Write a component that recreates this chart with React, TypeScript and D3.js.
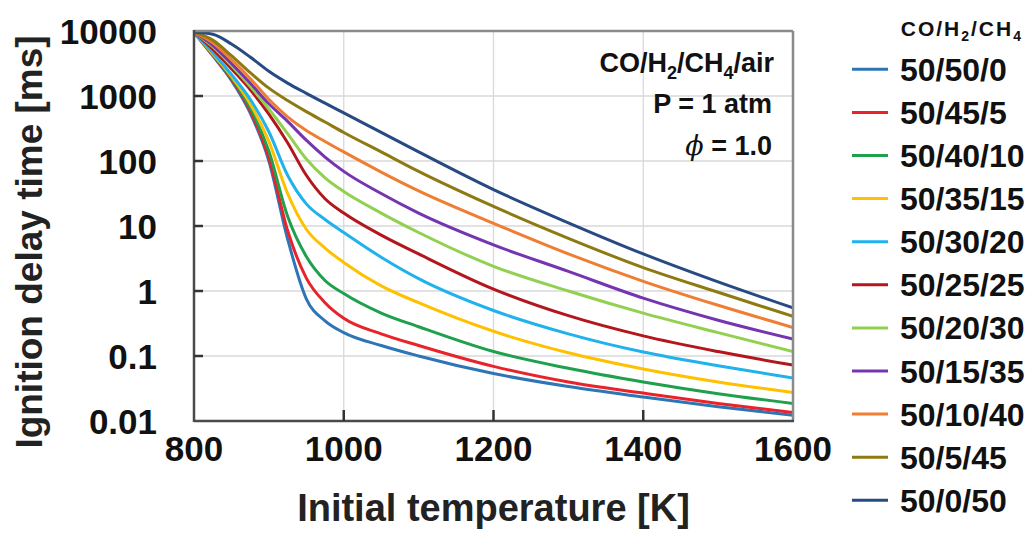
import React from "react";
import * as d3 from "d3";

// Initial temperature grid [K]
const temperatures = [800, 825, 850, 875, 900, 925, 950, 975, 1000, 1050, 1100, 1200, 1300, 1400, 1500, 1600];

// Ignition delay time [ms] for each CO/H2/CH4 blend
const mix50_50_0 = [9550, 4170, 1740, 550, 100, 6.31, 0.759, 0.347, 0.229, 0.145, 0.1, 0.0537, 0.0339, 0.0234, 0.0166, 0.0123];
const mix50_45_5 = [9550, 4270, 1820, 603, 112, 8.51, 1.58, 0.661, 0.38, 0.219, 0.145, 0.0692, 0.0398, 0.0269, 0.0186, 0.0135];
const mix50_40_10 = [9550, 4370, 1910, 661, 141, 14.1, 3.39, 1.45, 0.912, 0.457, 0.282, 0.117, 0.0646, 0.0398, 0.0263, 0.0186];
const mix50_35_15 = [9550, 4470, 2000, 759, 200, 31.6, 8.91, 4.57, 2.75, 1.2, 0.661, 0.24, 0.112, 0.0631, 0.0398, 0.0275];
const mix50_30_20 = [9550, 4680, 2140, 891, 282, 60.3, 21.9, 12.6, 7.94, 3.31, 1.55, 0.501, 0.219, 0.115, 0.0708, 0.0457];
const mix50_25_25 = [9550, 5250, 2630, 1260, 525, 191, 60.3, 26.3, 15.8, 7.24, 3.72, 1.07, 0.417, 0.204, 0.117, 0.0724];
const mix50_20_30 = [9550, 5750, 2950, 1410, 631, 263, 107, 55.0, 33.9, 15.8, 7.94, 2.4, 1.0, 0.457, 0.229, 0.117];
const mix50_15_35 = [9550, 6030, 3160, 1580, 759, 407, 209, 115, 69.2, 31.6, 15.8, 5.13, 2.0, 0.776, 0.355, 0.182];
const mix50_10_40 = [9550, 6610, 3630, 1860, 891, 479, 295, 200, 138, 67.6, 34.7, 11.0, 3.72, 1.41, 0.603, 0.275];
const mix50_5_45 = [9550, 7240, 4170, 2290, 1320, 851, 575, 398, 275, 138, 69.2, 20.0, 6.46, 2.29, 0.955, 0.407];
const mix50_0_50 = [9550, 8910, 6310, 3980, 2400, 1580, 1100, 776, 550, 275, 138, 36.3, 11.2, 3.72, 1.38, 0.55];

const seriesNames = ["50/50/0", "50/45/5", "50/40/10", "50/35/15", "50/30/20", "50/25/25", "50/20/30", "50/15/35", "50/10/40", "50/5/45", "50/0/50"];
const seriesColors = ["#2E75B6", "#E8232B", "#1FA04C", "#FFC000", "#1FB2EC", "#B4161D", "#92D050", "#7535B0", "#EF7E32", "#8E7A12", "#284A82"];
const seriesValues = [mix50_50_0, mix50_45_5, mix50_40_10, mix50_35_15, mix50_30_20, mix50_25_25, mix50_20_30, mix50_15_35, mix50_10_40, mix50_5_45, mix50_0_50];

const yTicks = [10000, 1000, 100, 10, 1, 0.1, 0.01];
const yTickLabels = ["10000", "1000", "100", "10", "1", "0.1", "0.01"];
const xTicks = [800, 1000, 1200, 1400, 1600];
const xTickLabels = ["800", "1000", "1200", "1400", "1600"];

const FONT = "'Liberation Sans', Arial, Helvetica, sans-serif";

export default function App() {
  const left = 194, right = 793, top = 31, bottom = 421;
  const x = d3.scaleLinear().domain([800, 1600]).range([left, right]);
  const y = d3.scaleLog().domain([0.01, 10000]).range([bottom, top]);

  const line = d3
    .line<[number, number]>()
    .x((d) => x(d[0]))
    .y((d) => y(d[1]))
    .curve(d3.curveMonotoneX);

  const legendX0 = 852, legendX1 = 888, legendTop = 69.3, legendStep = 43.1;

  return (
    <svg
      width={1028}
      height={535}
      style={{ position: "absolute", left: 0, top: 0, background: "#fff" }}
      fontFamily={FONT}
    >
      <defs>
        <clipPath id="plotClip">
          <rect x={left} y={top - 2} width={right - left} height={bottom - top + 2} />
        </clipPath>
      </defs>

      {/* grid */}
      {yTicks.slice(1, -1).map((v) => (
        <line key={"gy" + v} x1={left} x2={right} y1={y(v)} y2={y(v)} stroke="#d9d9d9" strokeWidth={1.3} />
      ))}
      {xTicks.slice(1, -1).map((v) => (
        <line key={"gx" + v} x1={x(v)} x2={x(v)} y1={top} y2={bottom} stroke="#d9d9d9" strokeWidth={1.3} />
      ))}

      {/* curves */}
      <g clipPath="url(#plotClip)">
        {seriesValues.map((vals, i) => (
          <path
            key={seriesNames[i]}
            d={line(temperatures.map((t, j) => [t, vals[j]] as [number, number])) || ""}
            fill="none"
            stroke={seriesColors[i]}
            strokeWidth={3}
            strokeLinejoin="round"
          />
        ))}
      </g>

      {/* frame */}
      <line x1={left} x2={right} y1={top} y2={top} stroke="#8a8a8a" strokeWidth={2.5} />
      <line x1={right} x2={right} y1={top} y2={bottom} stroke="#8a8a8a" strokeWidth={2.5} />
      <line x1={left} x2={left} y1={top - 1} y2={bottom + 1} stroke="#4a4a4a" strokeWidth={2.5} />
      <line x1={left} x2={right + 1} y1={bottom} y2={bottom} stroke="#4a4a4a" strokeWidth={2.5} />

      {/* ticks */}
      {yTicks.slice(1, -1).map((v) => (
        <line key={"ty" + v} x1={left} x2={left + 9} y1={y(v)} y2={y(v)} stroke="#333" strokeWidth={2.5} />
      ))}
      {xTicks.slice(1, -1).map((v) => (
        <line key={"tx" + v} x1={x(v)} x2={x(v)} y1={bottom} y2={bottom - 11} stroke="#333" strokeWidth={2.5} />
      ))}

      {/* tick labels */}
      {yTicks.map((v, i) => (
        <text key={"ly" + v} x={157} y={y(v) + 12.5} textAnchor="end" fontSize={35} fontWeight="bold" fill="#111">
          {yTickLabels[i]}
        </text>
      ))}
      {xTicks.map((v, i) => (
        <text key={"lx" + v} x={x(v)} y={461} textAnchor="middle" fontSize={35} fontWeight="bold" fill="#111">
          {xTickLabels[i]}
        </text>
      ))}

      {/* axis titles */}
      <text x={(left + right) / 2} y={521} textAnchor="middle" fontSize={38} fontWeight="bold" fill="#222">
        Initial temperature [K]
      </text>
      <text
        transform={`translate(42, ${242}) rotate(-90)`}
        textAnchor="middle"
        fontSize={37}
        fontWeight="bold"
        fill="#222"
      >
        Ignition delay time [ms]
      </text>

      {/* conditions */}
      <g fontWeight="bold" fill="#111" textAnchor="end">
        <text x={774} y={72} fontSize={27}>
          CO/H<tspan fontSize={18} dy={7}>2</tspan>
          <tspan dy={-7}>/CH</tspan>
          <tspan fontSize={18} dy={7}>4</tspan>
          <tspan dy={-7}>/air</tspan>
        </text>
        <text x={772} y={113} fontSize={27}>P = 1 atm</text>
        <text x={772} y={155} fontSize={27}>
          <tspan fontStyle="italic" fontFamily="'DejaVu Serif', serif" fontWeight="normal">ϕ</tspan> = 1.0
        </text>
      </g>

      {/* legend */}
      <text x={1023} y={36} textAnchor="end" fontSize={21} fontWeight="bold" fill="#111" letterSpacing={2}>
        CO/H<tspan fontSize={14} dy={5}>2</tspan>
        <tspan dy={-5}>/CH</tspan>
        <tspan fontSize={14} dy={5}>4</tspan>
      </text>
      {seriesNames.map((name, i) => {
        const ly = legendTop + i * legendStep;
        return (
          <g key={"lg" + name}>
            <line x1={legendX0} x2={legendX1} y1={ly} y2={ly} stroke={seriesColors[i]} strokeWidth={3} />
            <text x={900} y={ly + 11.5} fontSize={32} fontWeight="bold" fill="#111">
              {name}
            </text>
          </g>
        );
      })}
    </svg>
  );
}
